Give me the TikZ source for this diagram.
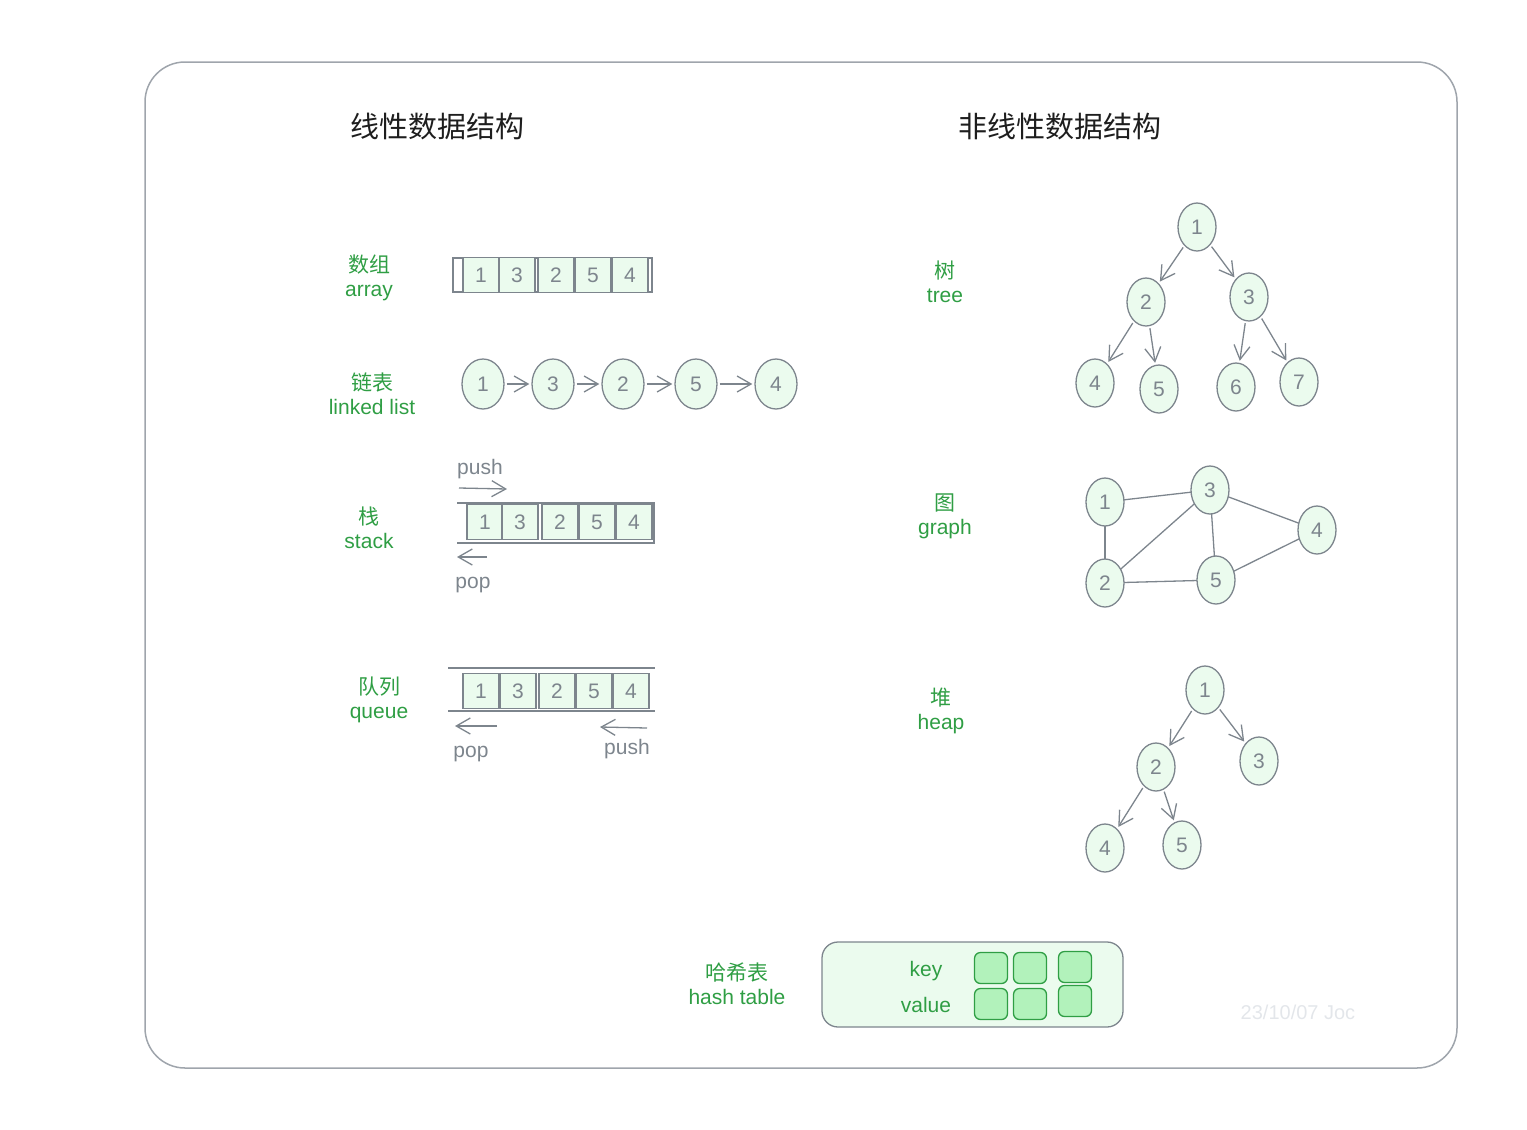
\documentclass[tikz,border=0pt]{standalone}
\usepackage{fontspec}
\setmainfont{Liberation Sans}
\newfontfamily\cjk{Noto Sans CJK SC}
\usetikzlibrary{arrows.meta,shapes.geometric}
\definecolor{exgray}{HTML}{7D858D}
\definecolor{exgreen}{HTML}{2F9E44}
\definecolor{exfill}{HTML}{EBFBEE}
\definecolor{excell}{HTML}{B2F2BB}
\definecolor{exframe}{HTML}{9FA5AC}
\definecolor{exdate}{HTML}{E3E6EA}
\definecolor{extitle}{HTML}{1E1E1E}

\begin{document}
\begin{tikzpicture}[x=1pt, y=-1pt, line width=1.3pt,
  elem/.style={draw=exgray, fill=exfill, ellipse, minimum width=38pt, minimum height=48pt, inner sep=0pt, text=exgray, font=\fontsize{21}{24}\selectfont},
  cell/.style={draw=exgray, fill=exfill, minimum width=36pt, minimum height=35pt, inner sep=0pt, text=exgray, font=\fontsize{21}{24}\selectfont},
  kv/.style={draw=exgreen, fill=excell, rounded corners=6pt, minimum width=33pt, minimum height=31pt, inner sep=0pt},
  lbl/.style={align=center, text=exgreen, font=\fontsize{21}{24}\selectfont},
  gtxt/.style={text=exgray, font=\fontsize{21}{24}\selectfont},
  arr/.style={draw=exgray, -{Straight Barb[length=14pt,width=16pt]}, shorten >=2pt, shorten <=2pt}]
\useasboundingbox (0,0) rectangle (1527,1130);
\draw[exframe, line width=1.5pt, rounded corners=40pt] (145,62) rectangle (1457,1068);

\node[text=extitle, font=\cjk\fontsize{29}{34}\selectfont] (TL) at (437,126) {线性数据结构};
\node[text=extitle, font=\cjk\fontsize{29}{34}\selectfont] (TN) at (1060,126) {非线性数据结构};

%array
\node[lbl] (Larr) at (369,278) {{\cjk 数组}\\array};
\draw[exgray] (453,258) rectangle (652,292);
\node[cell] (A1) at (481,275) {1};
\node[cell] (A3) at (517,275) {3};
\node[cell] (A2) at (556,275) {2};
\node[cell] (A5) at (593,275) {5};
\node[cell] (A4) at (630,275) {4};

%linked list
\node[lbl] (Llist) at (372,394) {{\cjk 链表}\\linked list};
\node[elem, minimum width=42pt, minimum height=50pt] (L1) at (483,384) {1};
\node[elem, minimum width=42pt, minimum height=50pt] (L3) at (553,384) {3};
\node[elem, minimum width=42pt, minimum height=50pt] (L2) at (623,384) {2};
\node[elem, minimum width=42pt, minimum height=50pt] (L5) at (696,384) {5};
\node[elem, minimum width=42pt, minimum height=50pt] (L4) at (776,384) {4};
\draw[arr] (L1) -- (L3);
\draw[arr] (L3) -- (L2);
\draw[arr] (L2) -- (L5);
\draw[arr] (L5) -- (L4);

%stack
\node[lbl] (Lstack) at (369,528) {{\cjk 栈}\\stack};
\draw[exgray] (457,503) -- (654,503) -- (654,543) -- (457,543);
\node[cell] (S1) at (485,522) {1};
\node[cell] (S3) at (520,522) {3};
\node[cell] (S2) at (560,522) {2};
\node[cell] (S5) at (597,522) {5};
\node[cell] (S4) at (634,522) {4};
\node[gtxt] (SPush) at (480,469) {push};
\coordinate (SPa) at (459,488);
\coordinate (SPb) at (507,489);
\draw[arr, shorten >=0pt, shorten <=0pt] (SPa) -- (SPb);
\node[gtxt] (SPop) at (473,585) {pop};
\coordinate (SOa) at (487,557);
\coordinate (SOb) at (457,557);
\draw[arr, shorten >=0pt, shorten <=0pt] (SOa) -- (SOb);

%queue
\node[lbl] (Lqueue) at (379,700) {{\cjk 队列}\\queue};
\draw[exgray] (448,668) -- (655,668);
\draw[exgray] (448,711) -- (655,711);
\node[cell] (Q1) at (481,691) {1};
\node[cell] (Q3) at (518,691) {3};
\node[cell] (Q2) at (557,691) {2};
\node[cell] (Q5) at (594,691) {5};
\node[cell] (Q4) at (631,691) {4};
\node[gtxt] (QPop) at (471,754) {pop};
\coordinate (QOa) at (497,726);
\coordinate (QOb) at (455,726);
\draw[arr, shorten >=0pt, shorten <=0pt] (QOa) -- (QOb);
\node[gtxt] (QPush) at (627,749) {push};
\coordinate (QPa) at (647,728);
\coordinate (QPb) at (600,727);
\draw[arr, shorten >=0pt, shorten <=0pt] (QPa) -- (QPb);

%tree
\node[lbl] (Ltree) at (945,282) {{\cjk 树}\\tree};
\node[elem] (T1) at (1197,227) {1};
\node[elem] (T2) at (1146,302) {2};
\node[elem] (T3) at (1249,297) {3};
\node[elem] (T4) at (1095,383) {4};
\node[elem] (T5) at (1159,389) {5};
\node[elem] (T6) at (1236,387) {6};
\node[elem] (T7) at (1299,382) {7};
\draw[arr] (T1) -- (T2);
\draw[arr] (T1) -- (T3);
\draw[arr] (T2) -- (T4);
\draw[arr] (T2) -- (T5);
\draw[arr] (T3) -- (T6);
\draw[arr] (T3) -- (T7);

%graph
\node[lbl] (Lgraph) at (945,516) {{\cjk 图}\\graph};
\draw[exgray] (1105,502) -- (1210,490);
\draw[exgray] (1105,502) -- (1105,583);
\draw[exgray] (1105,583) -- (1210,490);
\draw[exgray] (1105,583) -- (1216,580);
\draw[exgray] (1210,490) -- (1216,580);
\draw[exgray] (1210,490) -- (1317,530);
\draw[exgray] (1216,580) -- (1317,530);
\node[elem] (G1) at (1105,502) {1};
\node[elem] (G3) at (1210,490) {3};
\node[elem] (G4) at (1317,530) {4};
\node[elem] (G2) at (1105,583) {2};
\node[elem] (G5) at (1216,580) {5};

%heap
\node[lbl] (Lheap) at (941,711) {{\cjk 堆}\\heap};
\node[elem] (H1) at (1205,690) {1};
\node[elem] (H2) at (1156,767) {2};
\node[elem] (H3) at (1259,761) {3};
\node[elem] (H4) at (1105,848) {4};
\node[elem] (H5) at (1182,845) {5};
\draw[arr] (H1) -- (H2);
\draw[arr] (H1) -- (H3);
\draw[arr] (H2) -- (H4);
\draw[arr] (H2) -- (H5);

%hash table
\node[lbl] (Lhash) at (737,984) {{\cjk 哈希表}\\hash table};
\node[draw=exgray, fill=exfill, rounded corners=16pt, minimum width=301pt, minimum height=85pt, inner sep=0pt] (HT) at (972.5,984.5) {};
\node[lbl] (Hkey) at (926,971) {key};
\node[lbl] (Hval) at (926,1005) {value};
\node[kv] (K1) at (991,968) {};
\node[kv] (K2) at (1030,968) {};
\node[kv] (K3) at (1075,967) {};
\node[kv] (V1) at (991,1004) {};
\node[kv] (V2) at (1030,1004) {};
\node[kv] (V3) at (1075,1001) {};

\node[text=exdate, font=\fontsize{20}{24}\selectfont] (Date) at (1298,1012) {23/10/07 Joc};
\end{tikzpicture}
\end{document}
